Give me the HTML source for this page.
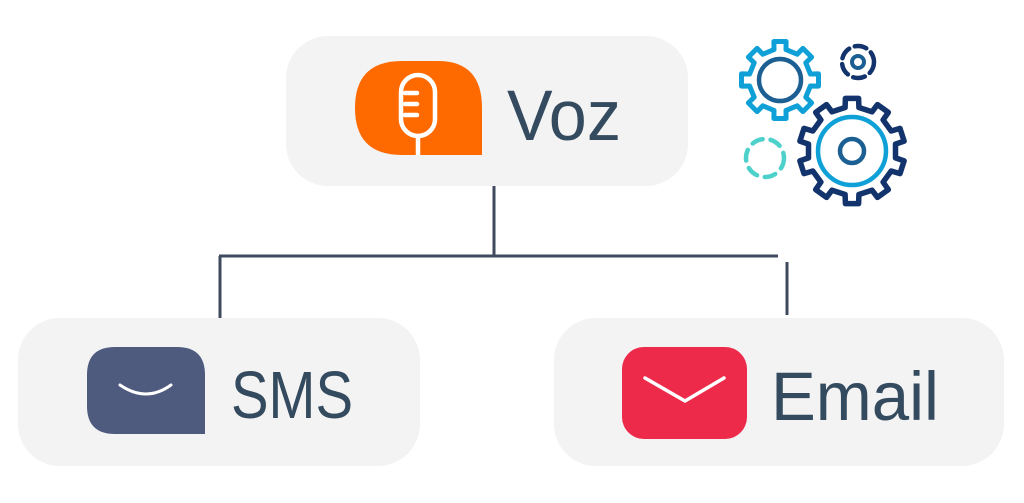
<!DOCTYPE html>
<html><head><meta charset="utf-8"><style>
html,body{margin:0;padding:0;background:#fff;}
svg{display:block}
text{font-family:"Liberation Sans",sans-serif;fill:#344a5e}
</style></head><body>
<svg id="s" width="1024" height="503" viewBox="0 0 1024 503" xmlns="http://www.w3.org/2000/svg">
<rect x="286" y="36" width="402" height="150" rx="42" fill="#f3f3f3"/>
<rect x="18" y="318" width="402" height="148" rx="42" fill="#f3f3f3"/>
<rect x="554" y="318" width="450" height="148" rx="42" fill="#f3f3f3"/>
<g stroke="#3f4b5c" stroke-width="3" fill="none">
<line x1="494" y1="186" x2="494" y2="256"/>
<line x1="219" y1="256" x2="778" y2="256"/>
<line x1="220" y1="256" x2="220" y2="318"/>
<line x1="787" y1="262" x2="787" y2="315"/>
</g>
<path d="M355 108 Q355 61 402 61 L438 61 Q482 61 482 108 L482 155 L402 155 Q355 155 355 108 Z" fill="#ff6a00"/>
<rect x="401" y="75" width="34" height="61" rx="17" fill="none" stroke="#fff" stroke-width="4.5"/>
<g stroke="#fff" stroke-width="4.5" stroke-linecap="round"><line x1="405" y1="93" x2="417" y2="93"/><line x1="405" y1="104" x2="417" y2="104"/><line x1="405" y1="115" x2="417" y2="115"/></g>
<line x1="418" y1="136" x2="418" y2="155" stroke="#fff" stroke-width="4.5"/>
<text x="507" y="140" font-size="71" textLength="114" lengthAdjust="spacingAndGlyphs">Voz</text>
<path d="M87 375 Q87 347 115 347 L177 347 Q205 347 205 375 L205 434 L115 434 Q87 434 87 406 Z" fill="#4e5a7e"/>
<path d="M120 385 Q146 403 171 385" fill="none" stroke="#fff" stroke-width="3" stroke-linecap="round"/>
<text x="231" y="418" font-size="67" textLength="122" lengthAdjust="spacingAndGlyphs">SMS</text>
<rect x="622" y="347" width="125" height="92" rx="22" fill="#ee2a4a"/>
<path d="M645 378 L685 401 L724 378" fill="none" stroke="#fff" stroke-width="3.5" stroke-linecap="round" stroke-linejoin="round"/>
<text x="771" y="420" font-size="69" textLength="168" lengthAdjust="spacingAndGlyphs">Email</text>
<path id="g1" fill="none" stroke="#0ea0d6" stroke-width="5" stroke-linejoin="round"/>
<circle cx="780" cy="80" r="21" fill="none" stroke="#1b5f93" stroke-width="4.5"/>
<path id="g2" fill="none" stroke="#12336b" stroke-width="5.5" stroke-linejoin="round"/>
<circle cx="852" cy="151" r="34" fill="none" stroke="#0ea0d6" stroke-width="4.5"/>
<circle cx="852" cy="151" r="12" fill="none" stroke="#1b5f93" stroke-width="4.5"/>
<circle cx="858" cy="62" r="16" fill="none" stroke="#12336b" stroke-width="4.5" stroke-dasharray="12 6" stroke-linecap="round"/>
<circle cx="858" cy="62" r="6" fill="none" stroke="#1b5f93" stroke-width="4"/>
<circle cx="765" cy="158" r="19" fill="none" stroke="#4ed1cb" stroke-width="4.5" stroke-dasharray="11 8" stroke-linecap="round"/>
</svg>
<script>
function gear(cx,cy,ro,ri,n,off){var d="",st=Math.PI*2/n;for(var i=0;i<n;i++){var a=off+i*st;var p=[[a-st*0.25,ri],[a-st*0.2,ro],[a+st*0.2,ro],[a+st*0.25,ri],[a+st*0.75,ri]];
p.forEach(function(q,j){var x=cx+q[1]*Math.cos(q[0]),y=cy+q[1]*Math.sin(q[0]);d+=(i==0&&j==0?"M":"L")+x.toFixed(1)+" "+y.toFixed(1)+" ";});}
return d+"Z";}
document.getElementById("g1").setAttribute("d",gear(780,80,39,31,8,-Math.PI/2));
document.getElementById("g2").setAttribute("d",gear(852,151,53,44,10,-Math.PI/2));
</script>
</body></html>
